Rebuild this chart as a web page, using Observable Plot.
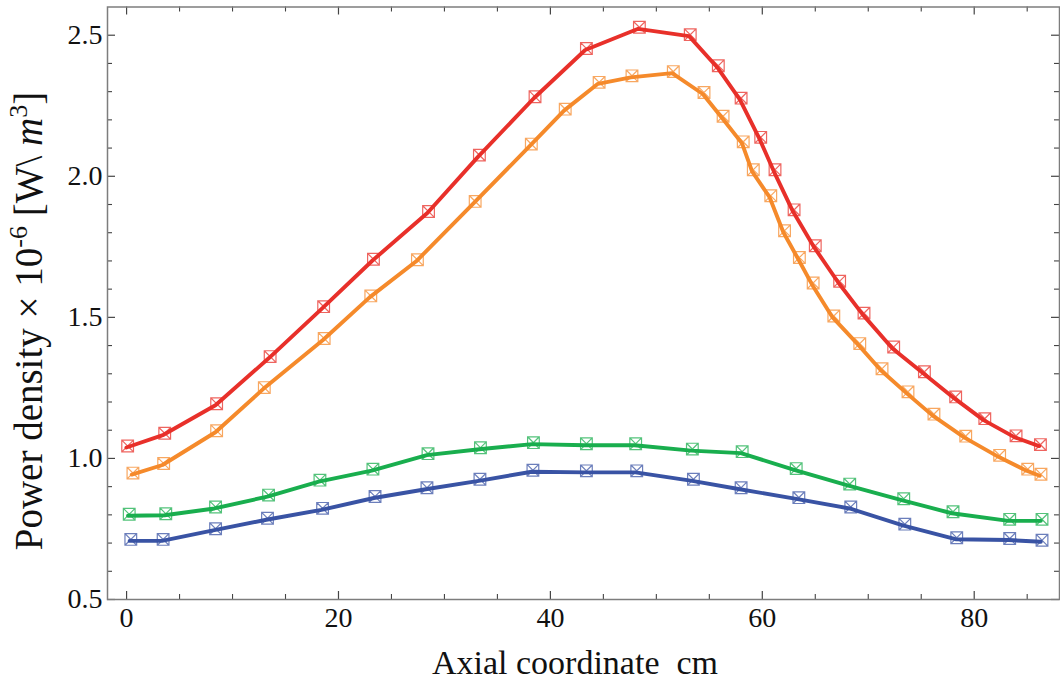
<!DOCTYPE html>
<html><head><meta charset="utf-8">
<script src="https://cdn.jsdelivr.net/npm/d3@7"></script>
<script src="https://cdn.jsdelivr.net/npm/@observablehq/plot@0.6"></script>
<style>body{margin:0;background:#fff} svg{display:block}</style>
</head><body><div id="chart"></div>
<script>
// ---- data (axial coordinate in cm, power density ×10^-6) ----
const seriesNames = ["Series 1", "Series 2", "Series 3", "Series 4"];
const seriesColors = ["#e8302a", "#f58a2b", "#19ae4e", "#3953a4"];

const redX = [0.1,3.6,8.5,13.55,18.6,23.3,28.5,33.3,38.55,43.4,48.4,53.2,55.85,58.0,59.85,61.2,63.0,65.0,67.3,69.6,72.4,75.3,78.25,81.0,83.95,86.25];
const redY = [1.044,1.089,1.194,1.361,1.538,1.706,1.875,2.075,2.282,2.453,2.528,2.502,2.392,2.277,2.138,2.023,1.881,1.754,1.628,1.515,1.395,1.307,1.218,1.141,1.080,1.049];

const orangeX = [0.6,3.5,8.5,13.0,18.65,23.05,27.45,32.9,38.2,41.4,44.6,47.7,51.6,54.5,56.3,58.2,59.15,60.8,62.1,63.5,64.8,66.75,69.2,71.3,73.75,76.2,79.2,82.4,85.05,86.3];
const orangeY = [0.948,0.982,1.098,1.251,1.425,1.576,1.704,1.911,2.114,2.238,2.333,2.356,2.371,2.297,2.213,2.122,2.023,1.931,1.807,1.712,1.622,1.505,1.407,1.318,1.236,1.157,1.079,1.011,0.962,0.944];

const greenX = [0.25,3.7,8.4,13.4,18.25,23.25,28.45,33.4,38.4,43.4,48.05,53.4,58.1,63.2,68.25,73.35,78.0,83.35,86.4];
const greenY = [0.802,0.804,0.828,0.870,0.923,0.962,1.017,1.038,1.056,1.052,1.052,1.033,1.024,0.964,0.909,0.857,0.811,0.784,0.784];

const blueX = [0.4,3.45,8.4,13.3,18.5,23.45,28.35,33.35,38.35,43.4,48.15,53.5,58.0,63.45,68.35,73.45,78.35,83.35,86.4];
const blueY = [0.713,0.713,0.751,0.788,0.823,0.865,0.896,0.926,0.958,0.956,0.956,0.926,0.896,0.861,0.828,0.767,0.719,0.716,0.710];

const xMajor = [0, 20, 40, 60, 80];
const xMinor = [5,10,15,25,30,35,45,50,55,65,70,75,85];
const yMajor = [0.5, 1.0, 1.5, 2.0, 2.5];
const yMinor = [0.6,0.7,0.8,0.9,1.1,1.2,1.3,1.4,1.6,1.7,1.8,1.9,2.1,2.2,2.3,2.4];
const xDomain = [-1.8, 88.05];
const yDomain = [0.5, 2.6];
const xTitle = "Axial coordinate\u00a0\u00a0cm";

// ---- build table ----
const seriesXY = [[redX, redY], [orangeX, orangeY], [greenX, greenY], [blueX, blueY]];
const rows = [];
seriesXY.forEach(([xs, ys], i) => xs.forEach((x, j) => rows.push({s: seriesNames[i], x, y: ys[j]})));

// square with X marker
const squareX = {
  draw(ctx, size) {
    const r = Math.sqrt(size) / 2;
    ctx.moveTo(-r, -r); ctx.lineTo(r, -r); ctx.lineTo(r, r); ctx.lineTo(-r, r); ctx.closePath();
    ctx.moveTo(-r, -r); ctx.lineTo(r, r);
    ctx.moveTo(r, -r); ctx.lineTo(-r, r);
  }
};

const W = 1060, H = 682;
const mL = 107, mR = 1, mT = 6.5, mB = 83;
const pw = W - mL - mR, ph = H - mT - mB;

const plot = Plot.plot({
  width: W, height: H,
  marginLeft: mL, marginRight: mR, marginTop: mT, marginBottom: mB,
  style: {fontFamily: "'Liberation Serif', 'Times New Roman', serif", background: "white", color: "#111"},
  x: {domain: xDomain},
  y: {domain: yDomain},
  color: {type: "ordinal", domain: seriesNames, range: seriesColors},
  marks: [
    // inward ticks (bottom / top / left / right)
    Plot.ruleX(xMajor, {stroke: "#444", strokeWidth: 1.2, insetTop: ph - 8}),
    Plot.ruleX(xMinor, {stroke: "#444", strokeWidth: 1.1, insetTop: ph - 5}),
    Plot.ruleX(xMajor, {stroke: "#444", strokeWidth: 1.2, insetBottom: ph - 8}),
    Plot.ruleX(xMinor, {stroke: "#444", strokeWidth: 1.1, insetBottom: ph - 5}),
    Plot.ruleY(yMajor, {stroke: "#444", strokeWidth: 1.2, insetRight: pw - 8}),
    Plot.ruleY(yMinor, {stroke: "#444", strokeWidth: 1.1, insetRight: pw - 5}),
    Plot.ruleY(yMajor, {stroke: "#444", strokeWidth: 1.2, insetLeft: pw - 8}),
    Plot.ruleY(yMinor, {stroke: "#444", strokeWidth: 1.1, insetLeft: pw - 5}),
    Plot.frame({stroke: "#7d7d7d", strokeWidth: 1.5}),
    Plot.axisX(xMajor, {anchor: "bottom", tickSize: 0, tickPadding: 8, fontSize: 28, label: null}),
    Plot.axisY(yMajor, {anchor: "left", tickSize: 0, tickPadding: 5, fontSize: 28, label: null, tickFormat: d3.format(".1f")}),
    Plot.line(rows, {x: "x", y: "y", z: "s", stroke: "s", strokeWidth: 3.9, dx: -1.2, dy: 1.5}),
    Plot.dot(rows, {x: "x", y: "y", stroke: "s", symbol: squareX, r: 6.6, strokeWidth: 1.2, strokeOpacity: 0.75})
  ]
});

const svg = d3.select(plot);
// x title
svg.append("text")
  .attr("x", 575).attr("y", 674)
  .attr("text-anchor", "middle")
  .attr("font-size", 34)
  .attr("fill", "#111")
  .text(xTitle);
// y title with superscripts
const yt = svg.append("text")
  .attr("transform", "translate(42,321) rotate(-90)")
  .attr("text-anchor", "middle")
  .attr("font-size", 39)
  .attr("fill", "#111");
yt.append("tspan").text("Power density \u00d7 10");
yt.append("tspan").attr("font-size", 26).attr("dy", -15).text("-6");
yt.append("tspan").attr("dy", 15).text(" [W\\\u00a0");
yt.append("tspan").attr("font-style", "italic").text("m");
yt.append("tspan").attr("font-size", 26).attr("dy", -15).text("3");
yt.append("tspan").attr("dy", 15).text("]");

document.getElementById("chart").appendChild(plot);
</script>
</body></html>
